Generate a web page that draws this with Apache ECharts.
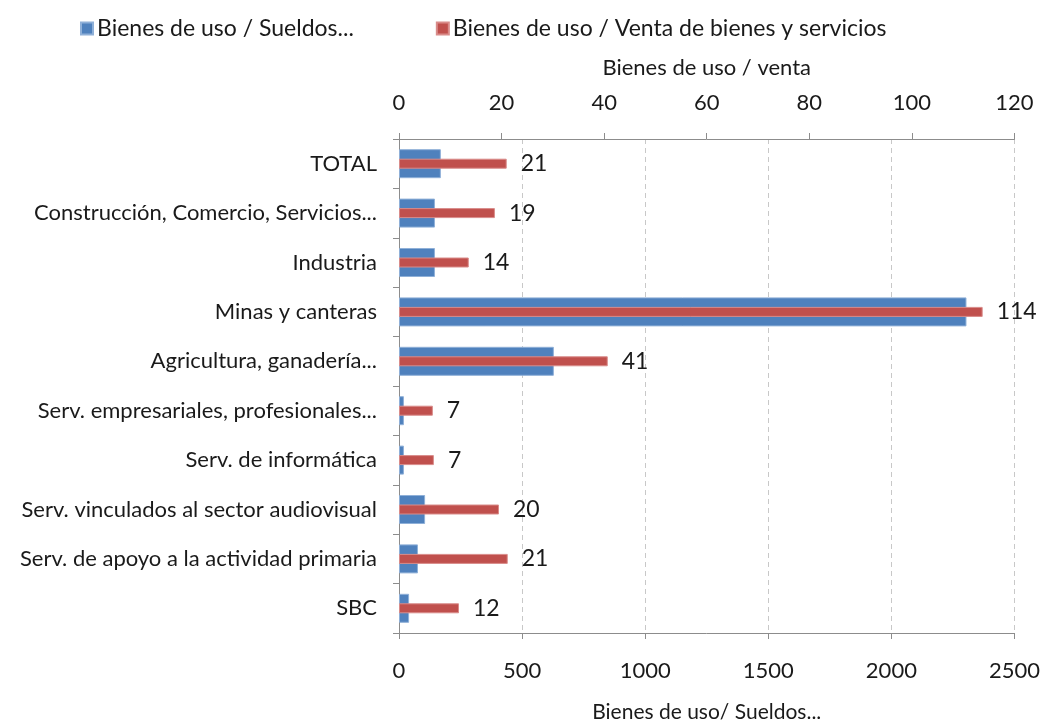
<!DOCTYPE html>
<html>
<head>
<meta charset="utf-8">
<script src="https://cdn.jsdelivr.net/npm/echarts@6/dist/echarts.min.js"></script>
<style>
  html, body { margin: 0; padding: 0; background: #fff; }
  #chart { width: 1043px; height: 728px; }
</style>
</head>
<body>
<div id="chart"></div>
<script>
// categories, top to bottom
const categories = [
    'TOTAL',
    'Construcción, Comercio, Servicios...',
    'Industria',
    'Minas y canteras',
    'Agricultura, ganadería...',
    'Serv. empresariales, profesionales...',
    'Serv. de informática',
    'Serv. vinculados al sector audiovisual',
    'Serv. de apoyo a la actividad primaria',
    'SBC'
];

// Bienes de uso / Sueldos (bottom axis)
const sueldos = [170, 146, 146, 2305, 629, 20, 20, 106, 77, 41];

// Bienes de uso / Venta de bienes y servicios (top axis)
const venta = [21.0, 18.7, 13.6, 113.8, 40.7, 6.6, 6.8, 19.5, 21.2, 11.7];

const FONT = 'Lato';
const TEXT = '#1a1a1a';
const AXIS = '#8c8c8c';

const chart = echarts.init(document.getElementById('chart'));

const catAxis = (show) => ({
    type: 'category',
    data: categories,
    inverse: true,
    show: show,
    axisLine: { lineStyle: { color: AXIS } },
    axisTick: { show: true, length: 6, lineStyle: { color: AXIS } },
    axisLabel: { color: TEXT, fontFamily: FONT, fontSize: 22, margin: 22 }
});

chart.setOption({
    backgroundColor: '#fff',
    animation: false,
    legend: {
        top: 12,
        left: 75,
        itemWidth: 12,
        itemHeight: 12,
        itemGap: 82,
        icon: 'rect',
        textStyle: { color: TEXT, fontFamily: FONT, fontSize: 23, padding: [0, 0, 0, -1] },
        data: ['Bienes de uso / Sueldos...', 'Bienes de uso / Venta de bienes y servicios']
    },
    grid: { left: 399, right: 28, top: 139, bottom: 86 },
    xAxis: [
        {
            type: 'value',
            position: 'bottom',
            min: 0, max: 2500, interval: 500,
            name: 'Bienes de uso/ Sueldos...',
            nameLocation: 'middle',
            nameGap: 69,
            nameTextStyle: { color: TEXT, fontFamily: FONT, fontSize: 21 },
            axisLine: { show: true, lineStyle: { color: AXIS } },
            axisTick: { show: true, length: 6, lineStyle: { color: AXIS } },
            axisLabel: { color: TEXT, fontFamily: FONT, fontSize: 22, margin: 27, formatter: v => String(v) },
            splitLine: { show: true, lineStyle: { color: '#c8c8c8', type: [5, 4] } }
        },
        {
            type: 'value',
            position: 'top',
            min: 0, max: 120, interval: 20,
            name: 'Bienes de uso / venta',
            nameLocation: 'middle',
            nameGap: 60,
            nameTextStyle: { color: TEXT, fontFamily: FONT, fontSize: 22 },
            axisLine: { show: true, lineStyle: { color: AXIS } },
            axisTick: { show: true, length: 6, lineStyle: { color: AXIS } },
            axisLabel: { color: TEXT, fontFamily: FONT, fontSize: 22, margin: 25 },
            splitLine: { show: false }
        }
    ],
    yAxis: [catAxis(true), catAxis(false)],
    series: [
        {
            name: 'Bienes de uso / Sueldos...',
            type: 'bar',
            xAxisIndex: 0,
            yAxisIndex: 0,
            barWidth: 29,
            data: sueldos,
            itemStyle: { color: '#4F81BD', borderColor: '#8fb0d8', borderWidth: 1 }
        },
        {
            name: 'Bienes de uso / Venta de bienes y servicios',
            type: 'bar',
            xAxisIndex: 1,
            yAxisIndex: 1,
            barWidth: 10,
            data: venta,
            itemStyle: { color: '#C0504D', borderColor: '#d98c8a', borderWidth: 1 },
            label: {
                show: true,
                position: 'right',
                distance: 14,
                color: TEXT,
                fontFamily: FONT,
                fontSize: 23,
                formatter: p => Math.round(p.value)
            }
        }
    ]
});
</script>
</body>
</html>
